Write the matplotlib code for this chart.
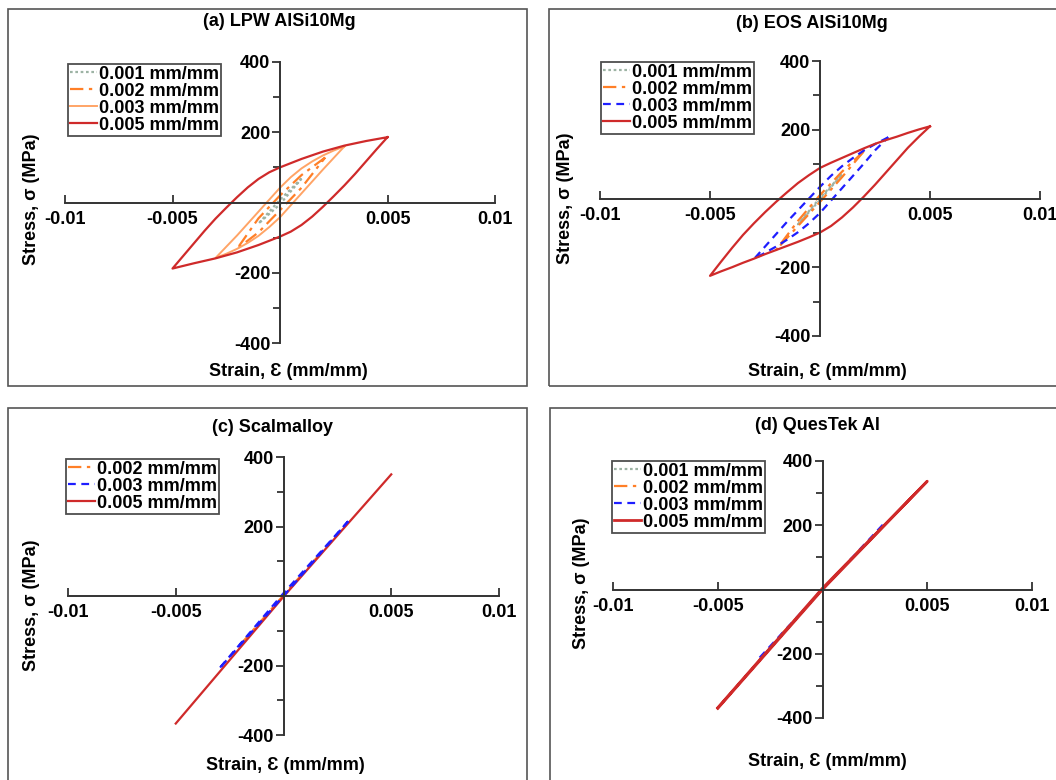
import matplotlib
matplotlib.use('Agg')
import matplotlib.pyplot as plt
from matplotlib.patches import Rectangle
from matplotlib.ticker import FixedLocator, FixedFormatter

plt.rcParams['font.family'] = ['Liberation Sans', 'DejaVu Sans']
plt.rcParams['font.weight'] = 'bold'

# ---------------- data ----------------
xtick_vals = [-0.01, -0.005, 0.005, 0.01]
xtick_labels = ['-0.01', '-0.005', '0.005', '0.01']
ytick_vals = [-400, -200, 200, 400]
ytick_labels = ['-400', '-200', '200', '400']
yminor_vals = [-300, -100, 100, 300]

titles = ['(a) LPW AlSi10Mg', '(b) EOS AlSi10Mg', '(c) Scalmalloy', '(d) QuesTek Al']
series_labels = ['0.001 mm/mm', '0.002 mm/mm', '0.003 mm/mm', '0.005 mm/mm']
xlabel = 'Strain, Ɛ (mm/mm)'
ylabel = 'Stress, σ (MPa)'

# (a) LPW AlSi10Mg
a001_strain = [0.0010, 0.0, -0.0010, -0.0010, 0.0, 0.0010]
a001_stress = [68, 8, -60, -60, -5, 68]
a002_strain = [0.0021, 0.0010, 0.0, -0.0010, -0.0020, -0.0020, -0.0010, 0.0, 0.0010, 0.0021]
a002_stress = [128, 78, 20, -45, -132, -132, -85, -22, 42, 128]
a003_strain = [0.0030, 0.0025, 0.0020, 0.0015, 0.0010, 0.0005, 0.0, -0.0005, -0.0010,
               -0.0015, -0.0020, -0.0025, -0.0030,
               -0.0025, -0.0020, -0.0015, -0.0010, -0.0005, 0.0, 0.0005, 0.0010,
               0.0015, 0.0020, 0.0025, 0.0030]
a003_stress = [160, 148, 134, 117, 97, 72, 42, 8, -26, -60, -94, -126, -158,
               -146, -132, -115, -95, -70, -42, -8, 26, 60, 94, 127, 160]
a005_strain = [0.0050, 0.0040, 0.0030, 0.0020, 0.0010, 0.0, -0.0005, -0.0010, -0.0015,
               -0.0020, -0.0025, -0.0030, -0.0035, -0.0040, -0.0045, -0.0050,
               -0.0040, -0.0030, -0.0020, -0.0010, 0.0, 0.0005, 0.0010, 0.0015,
               0.0020, 0.0025, 0.0030, 0.0035, 0.0040, 0.0045, 0.0050]
a005_stress = [186, 175, 162, 145, 124, 100, 86, 67, 43, 15, -15, -46, -80, -116, -152, -188,
               -173, -159, -142, -121, -97, -83, -64, -40, -12, 18, 49, 82, 117, 152, 186]

# (b) EOS AlSi10Mg
b001_strain = [0.0010, 0.0, -0.0010, -0.0010, 0.0, 0.0010]
b001_stress = [70, 2, -75, -75, -4, 70]
b002_strain = [0.0020, 0.0010, 0.0, -0.0010, -0.0020, -0.0020, -0.0010, 0.0, 0.0010, 0.0020]
b002_stress = [138, 78, 10, -65, -150, -150, -80, -10, 62, 138]
b003_strain = [0.0031, 0.0025, 0.0020, 0.0015, 0.0010, 0.0005, 0.0, -0.0005, -0.0010,
               -0.0015, -0.0020, -0.0025, -0.0030,
               -0.0025, -0.0020, -0.0015, -0.0010, -0.0005, 0.0, 0.0005, 0.0010,
               0.0015, 0.0020, 0.0025, 0.0031]
b003_stress = [178, 158, 140, 118, 94, 66, 34, 0, -34, -68, -104, -140, -176,
               -158, -140, -120, -98, -72, -42, -6, 30, 66, 102, 140, 178]
b005_strain = [0.0050, 0.0045, 0.0040, 0.0035, 0.0030, 0.0025, 0.0020, 0.0015, 0.0010,
               0.0005, 0.0, -0.0005, -0.0010, -0.0015, -0.0020, -0.0025, -0.0030,
               -0.0035, -0.0040, -0.0045, -0.0050,
               -0.0045, -0.0040, -0.0035, -0.0030, -0.0025, -0.0020, -0.0015, -0.0010,
               -0.0005, 0.0, 0.0005, 0.0010, 0.0015, 0.0020, 0.0025, 0.0030, 0.0035,
               0.0040, 0.0045, 0.0050]
b005_stress = [210, 201, 191, 180, 170, 159, 146, 132, 118, 104, 89, 68, 45, 18, -10, -40,
               -72, -106, -144, -184, -225,
               -212, -200, -187, -175, -162, -150, -138, -126, -113, -99, -80, -55, -26,
               6, 40, 76, 112, 148, 180, 210]

# (c) Scalmalloy
c002_strain = [-0.0020, 0.0, 0.0020]
c002_stress = [-140, 2, 142]
c003_strain = [0.0030, 0.0, -0.0030, -0.0030, 0.0, 0.0030]
c003_stress = [215, 8, -210, -210, 0, 215]
c005_strain = [-0.0050, 0.0, 0.0050]
c005_stress = [-367, -2, 350]

# (d) QuesTek Al
d001_strain = [-0.0010, 0.0, 0.0010]
d001_stress = [-72, 0, 70]
d002_strain = [-0.0020, 0.0, 0.0020]
d002_stress = [-142, 0, 140]
d003_strain = [-0.0030, 0.0, 0.0030]
d003_stress = [-212, 0, 210]
d005_strain = [-0.0050, 0.0, 0.0050, 0.0, -0.0050]
d005_stress = [-370, 0, 337, 4, -368]

# ---------------- styles ----------------
C_GRAY = '#9DB3A4'
C_ORANGE = '#FF7F27'
C_LORANGE = '#FFA466'
C_BLUE = '#1E1EFF'
C_RED = '#CF2A2A'
st001 = dict(color=C_GRAY, ls=(0, (1.2, 1.2)), lw=1.6)
st002 = dict(color=C_ORANGE, ls=(0, (6, 2.5, 1.5, 2.5)), lw=1.6)
st003a = dict(color=C_LORANGE, ls='-', lw=1.4)
st003 = dict(color=C_BLUE, ls=(0, (3.5, 2.5)), lw=1.6)
st005 = dict(color=C_RED, ls='-', lw=1.6)

W, H = 1056, 780
fig = plt.figure(figsize=(W / 100, H / 100), dpi=100)
FS = 13

# panel frames (pixel coordinates: x0, y0, x1, y1)
frames = [(8, 9, 527, 386), (549, 9, 1062, 386), (8, 408, 527, 790), (550, 408, 1062, 790)]
for (x0, y0, x1, y1) in frames:
    fig.patches.append(Rectangle((x0 / W, 1 - y1 / H), (x1 - x0) / W, (y1 - y0) / H,
                                 transform=fig.transFigure, fill=False,
                                 edgecolor='#555555', lw=1.2))

# axes placement: pixel x of -0.01 / 0.01, pixel y of 400 / -400
axes_px = [(65, 495, 62, 343), (600, 1040, 61, 336), (68, 499, 457, 735), (613, 1032, 461, 718)]
title_pos = [(279, 22), (812, 24), (272, 427), (817, 426)]
xlabel_pos = [(288, 371), (827, 371), (285, 765), (827, 762)]
ylabel_pos = [(31, 199), (566, 198), (31, 605), (581, 583)]
legend_pos = [(68, 64), (601, 62), (66, 459), (612, 461)]


def make_axes(i):
    x0, x1, y0, y1 = axes_px[i]
    ax = fig.add_axes([x0 / W, 1 - y1 / H, (x1 - x0) / W, (y1 - y0) / H])
    ax.set_xlim(-0.01, 0.01)
    ax.set_ylim(-400, 400)
    ax.patch.set_alpha(0)
    for s in ('top', 'right'):
        ax.spines[s].set_visible(False)
    for s in ('left', 'bottom'):
        ax.spines[s].set_position(('data', 0))
        ax.spines[s].set_color('#333333')
        ax.spines[s].set_linewidth(1.4)
    ax.xaxis.set_major_locator(FixedLocator(xtick_vals))
    ax.xaxis.set_major_formatter(FixedFormatter(xtick_labels))
    ax.yaxis.set_major_locator(FixedLocator(ytick_vals))
    ax.yaxis.set_major_formatter(FixedFormatter(ytick_labels))
    ax.yaxis.set_minor_locator(FixedLocator(yminor_vals))
    ax.tick_params(axis='x', direction='in', length=6, width=1.3, pad=6,
                   labelsize=FS, colors='#333333', labelcolor='black')
    ax.tick_params(axis='y', which='major', direction='out', length=6, width=1.3, pad=1,
                   labelsize=FS, colors='#333333', labelcolor='black')
    ax.tick_params(axis='y', which='minor', direction='out', length=5, width=1.3,
                   colors='#333333')
    for lab in ax.get_xticklabels() + ax.get_yticklabels():
        lab.set_fontweight('bold')
    tx, ty = title_pos[i]
    fig.text(tx / W, 1 - ty / H, titles[i], ha='center', va='center', fontsize=FS,
             fontweight='bold')
    lx, ly = xlabel_pos[i]
    fig.text(lx / W, 1 - ly / H, xlabel, ha='center', va='center', fontsize=FS,
             fontweight='bold')
    yx, yy = ylabel_pos[i]
    fig.text(yx / W, 1 - yy / H, ylabel, ha='center', va='center', fontsize=FS,
             fontweight='bold', rotation=90)
    return ax


def add_legend(ax, i, handles, labels):
    lx, ly = legend_pos[i]
    leg = fig.legend(handles, labels, loc='upper left', bbox_to_anchor=(lx / W, 1 - ly / H),
                     bbox_transform=fig.transFigure, fancybox=False, frameon=True,
                     edgecolor='#222222', borderpad=0.1, labelspacing=0.0,
                     handlelength=1.5, handletextpad=0.1, borderaxespad=0,
                     prop=dict(size=FS, weight='bold'))
    leg.get_frame().set_linewidth(1.3)


# (a)
ax = make_axes(0)
h1, = ax.plot(a001_strain, a001_stress, **st001)
h2, = ax.plot(a002_strain, a002_stress, **st002)
h3, = ax.plot(a003_strain, a003_stress, **st003a)
h5, = ax.plot(a005_strain, a005_stress, **st005)
add_legend(ax, 0, [h1, h2, h3, h5], series_labels)

# (b)
ax = make_axes(1)
h1, = ax.plot(b001_strain, b001_stress, **st001)
h2, = ax.plot(b002_strain, b002_stress, **st002)
h3, = ax.plot(b003_strain, b003_stress, **st003)
h5, = ax.plot(b005_strain, b005_stress, **st005)
add_legend(ax, 1, [h1, h2, h3, h5], series_labels)

# (c)
ax = make_axes(2)
h2, = ax.plot(c002_strain, c002_stress, **st002)
h5, = ax.plot(c005_strain, c005_stress, **st005)
h3, = ax.plot(c003_strain, c003_stress, **st003)
add_legend(ax, 2, [h2, h3, h5], series_labels[1:])

# (d)
ax = make_axes(3)
h1, = ax.plot(d001_strain, d001_stress, **st001)
h2, = ax.plot(d002_strain, d002_stress, **st002)
h3, = ax.plot(d003_strain, d003_stress, **st003)
h5, = ax.plot(d005_strain, d005_stress, **dict(st005, lw=2.0))
add_legend(ax, 3, [h1, h2, h3, h5], series_labels)

fig.savefig('out.png', dpi=100)
